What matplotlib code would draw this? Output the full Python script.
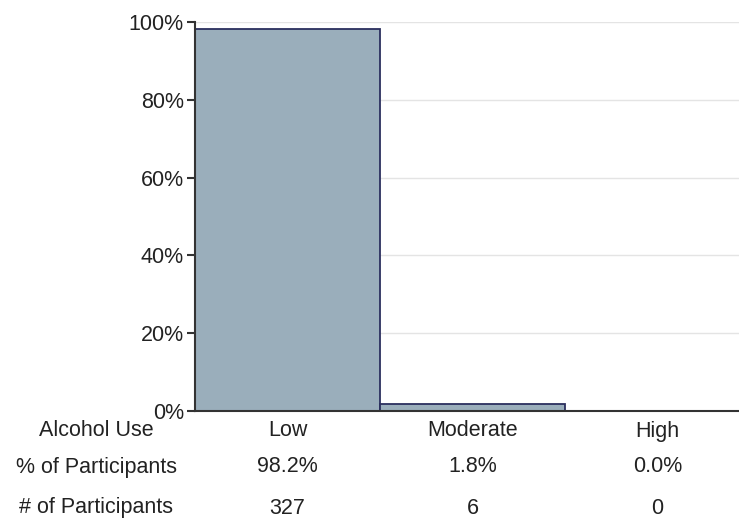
import matplotlib
matplotlib.use('Agg')
import matplotlib.pyplot as plt

categories = ['Low', 'Moderate', 'High']
pct_participants = [98.2, 1.8, 0.0]
n_participants = [327, 6, 0]
yticks = [0, 20, 40, 60, 80, 100]

plt.rcParams['font.family'] = ['Liberation Sans', 'DejaVu Sans']
fs = 15.5

fig = plt.figure(figsize=(7.39, 5.2), dpi=100)
# axes placement in pixels: left 195, top 22, bottom 411
ax = fig.add_axes([195 / 739, (520 - 411) / 520, 1 - 195 / 739, (411 - 22) / 520])

x = list(range(len(categories)))
ax.bar(x, pct_participants, width=1.0, color='#9aaebb', edgecolor='#2b2f5e', linewidth=1.3, zorder=2)

ax.set_xlim(-0.5, 2.44)
ax.set_ylim(0, 100)
ax.set_yticks(yticks)
ax.set_yticklabels([f'{v}%' for v in yticks], fontsize=fs, color='#222222')
ax.set_xticks([])
ax.yaxis.grid(True, color='#e4e4e4', linewidth=1, zorder=0)
ax.set_axisbelow(True)
for s in ['top', 'right']:
    ax.spines[s].set_visible(False)
ax.spines['left'].set_color('#333333')
ax.spines['bottom'].set_color('#333333')
ax.spines['left'].set_linewidth(1.5)
ax.spines['bottom'].set_linewidth(1.5)
ax.tick_params(axis='y', length=6, width=1.5, color='#333333', pad=2)

# table below the axes
rows = [('Alcohol Use', categories, 431),
        ('% of Participants', [f'{v:.1f}%' for v in pct_participants], 467),
        ('# of Participants', [str(v) for v in n_participants], 508)]
for label, vals, ypix in rows:
    yf = 1 - ypix / 520
    fig.text(96 / 739, yf, label, ha='center', va='center', fontsize=fs, color='#222222')
    for xi, v in zip(x, vals):
        xd = ax.transData.transform((xi, 0))[0]
        fig.text(xd / 739, yf, v, ha='center', va='center', fontsize=fs, color='#222222')

fig.savefig('out.png', dpi=100)
